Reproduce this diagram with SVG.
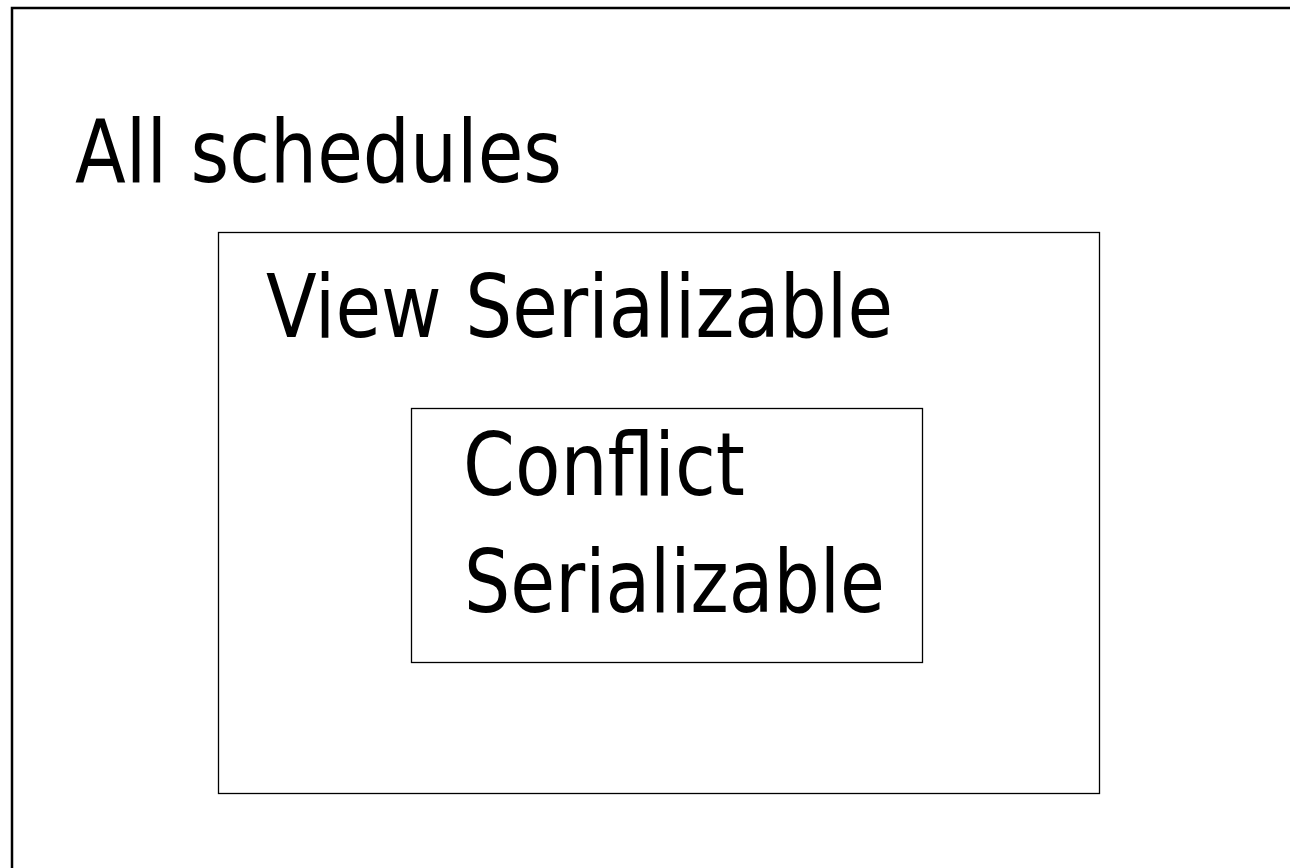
<svg xmlns="http://www.w3.org/2000/svg" width="1290" height="868" viewBox="0 0 1290 868">
  <style>
    .frame { fill: none; stroke: #000; }
    .label { font-family: "DejaVu Sans Condensed", "DejaVu Sans", Verdana, sans-serif; font-size: 88px; fill: #000; }
  </style>
  <rect width="1290" height="868" fill="#fff"/>
  <!-- outer set: all schedules (extends past the canvas edges) -->
  <g id="all-schedules">
    <rect class="frame" x="12" y="8" width="1300" height="900" stroke-width="2.5"/>
    <text class="label" x="75" y="182" textLength="487" lengthAdjust="spacingAndGlyphs">All schedules</text>
  </g>
  <g id="view-serializable">
    <rect class="frame" x="218.5" y="232.5" width="881" height="561" stroke-width="1.3"/>
    <text class="label" x="266" y="337" textLength="627" lengthAdjust="spacingAndGlyphs">View Serializable</text>
  </g>
  <g id="conflict-serializable">
    <rect class="frame" x="411.5" y="408.5" width="511" height="254" stroke-width="1.3"/>
    <text class="label" x="463" y="495" textLength="282" lengthAdjust="spacingAndGlyphs">Conflict</text>
    <text class="label" x="464" y="612" textLength="421" lengthAdjust="spacingAndGlyphs">Serializable</text>
  </g>
  <g id="connectors"/>
</svg>
